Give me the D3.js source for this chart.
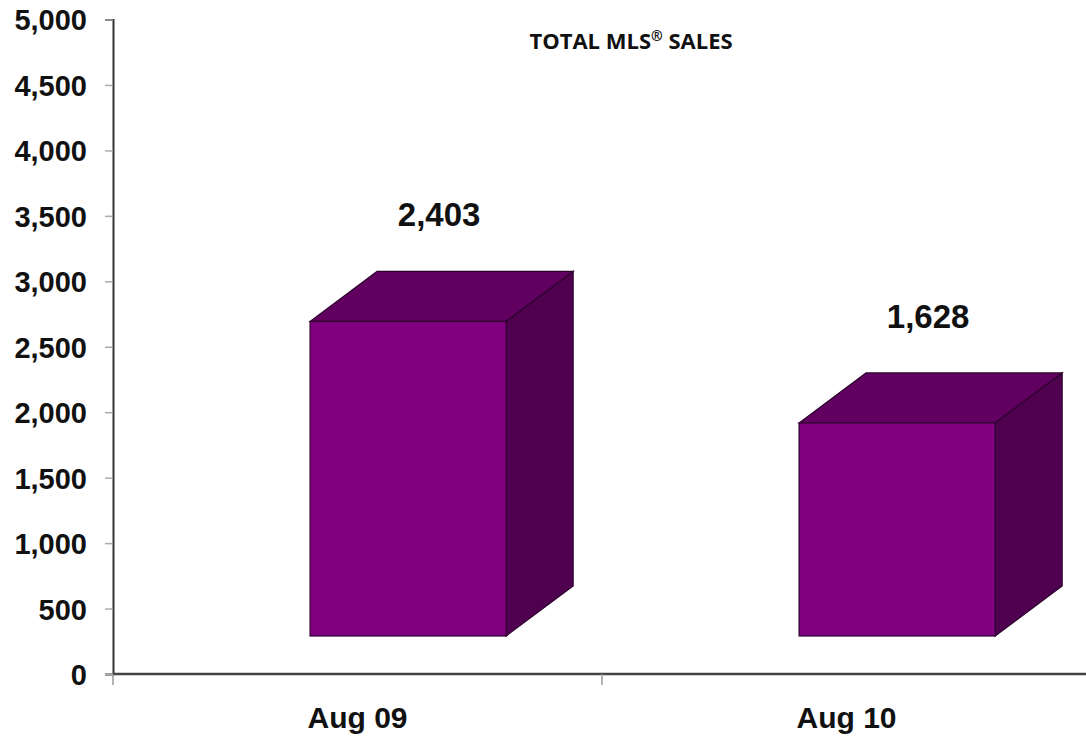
<!DOCTYPE html>
<html><head><meta charset="utf-8">
<script src="https://cdn.jsdelivr.net/npm/d3@7"></script>
<style>body{margin:0;background:#fff}svg{display:block}</style>
</head><body>
<svg id="c" width="1086" height="742"></svg>
<script>
const categories = ["Aug 09", "Aug 10"];
const values = [2403, 1628];
const valueLabels = ["2,403", "1,628"];
const yTicks = [0, 500, 1000, 1500, 2000, 2500, 3000, 3500, 4000, 4500, 5000];
const titleParts = ["TOTAL MLS", "\u00AE", " SALES"];

const svg = d3.select("#c");
const y = d3.scaleLinear().domain([0, 5000]).range([674, 19.5]);
const x = d3.scaleBand().domain(categories).range([113, 1091]);
const bw = x.bandwidth();
const floorLift = 38, dx = 67, dy = 50;
const fmt = d3.format(",");

// y axis
const yAxis = d3.axisLeft(y).tickValues(yTicks).tickFormat(fmt).tickSize(8).tickPadding(18);
const ya = svg.append("g").attr("transform", "translate(113,0)").call(yAxis);
ya.select(".domain").attr("stroke", "#333").attr("stroke-width", 2);
ya.selectAll(".tick line").attr("stroke", "#aaa").attr("stroke-width", 1.5);
ya.selectAll(".tick text").attr("font-family", "Liberation Sans, Arial, sans-serif")
  .attr("font-weight", "bold").attr("font-size", 29).attr("fill", "#111").attr("dy", "0.36em");

// x axis
const xAxis = d3.axisBottom(x).tickSize(0).tickPadding(0);
const xa = svg.append("g").attr("transform", "translate(0,674)").call(xAxis);
xa.select(".domain").attr("stroke", "#444").attr("stroke-width", 2.5).attr("d", "M113,0H1086");
xa.selectAll(".tick text").attr("font-family", "Liberation Sans, Arial, sans-serif")
  .attr("font-weight", "bold").attr("font-size", 30).attr("fill", "#111").attr("y", 54).attr("dy", 0);
// category separator ticks
xa.selectAll(".sep").data(categories).join("line").attr("class", "sep")
  .attr("x1", d => x(d)).attr("x2", d => x(d)).attr("y1", 0).attr("y2", 11)
  .attr("stroke", "#999").attr("stroke-width", 1.5);

// bars
const bars = svg.append("g").selectAll("g").data(categories).join("g");
bars.each(function(c, i) {
  const g = d3.select(this);
  const x0 = x(c) + bw * 0.403, x1 = x0 + bw * 0.401;
  const yb = y(0) - floorLift;
  const yt = yb - (y(0) - y(values[i]));
  const stroke = "#2e002e";
  // top face
  g.append("path").attr("d", `M${x0},${yt}L${x0+dx},${yt-dy}L${x1+dx},${yt-dy}L${x1},${yt}Z`)
    .attr("fill", "#620062").attr("stroke", stroke).attr("stroke-width", 1.2);
  // side face
  g.append("path").attr("d", `M${x1},${yt}L${x1+dx},${yt-dy}L${x1+dx},${yb-dy}L${x1},${yb}Z`)
    .attr("fill", "#4f004f").attr("stroke", stroke).attr("stroke-width", 1.2);
  // front face
  g.append("rect").attr("x", x0).attr("y", yt).attr("width", x1 - x0).attr("height", yb - yt)
    .attr("fill", "#800080").attr("stroke", stroke).attr("stroke-width", 1.2);
  // value label
  g.append("text").attr("x", (x0 + x1) / 2 + 31).attr("y", yt - dy - 45)
    .attr("text-anchor", "middle").attr("font-family", "Liberation Sans, Arial, sans-serif")
    .attr("font-weight", "bold").attr("font-size", 33).attr("fill", "#111").text(valueLabels[i]);
});

// title
const t = svg.append("text").attr("x", 631).attr("y", 49).attr("text-anchor", "middle")
  .attr("font-family", "Open Sans, sans-serif").attr("font-weight", "bold")
  .attr("font-size", 22).attr("fill", "#111");
t.append("tspan").text(titleParts[0]);
t.append("tspan").attr("font-size", 14).attr("dy", -8).text(titleParts[1]);
t.append("tspan").attr("dy", 8).text(titleParts[2]);
</script>
</body></html>
